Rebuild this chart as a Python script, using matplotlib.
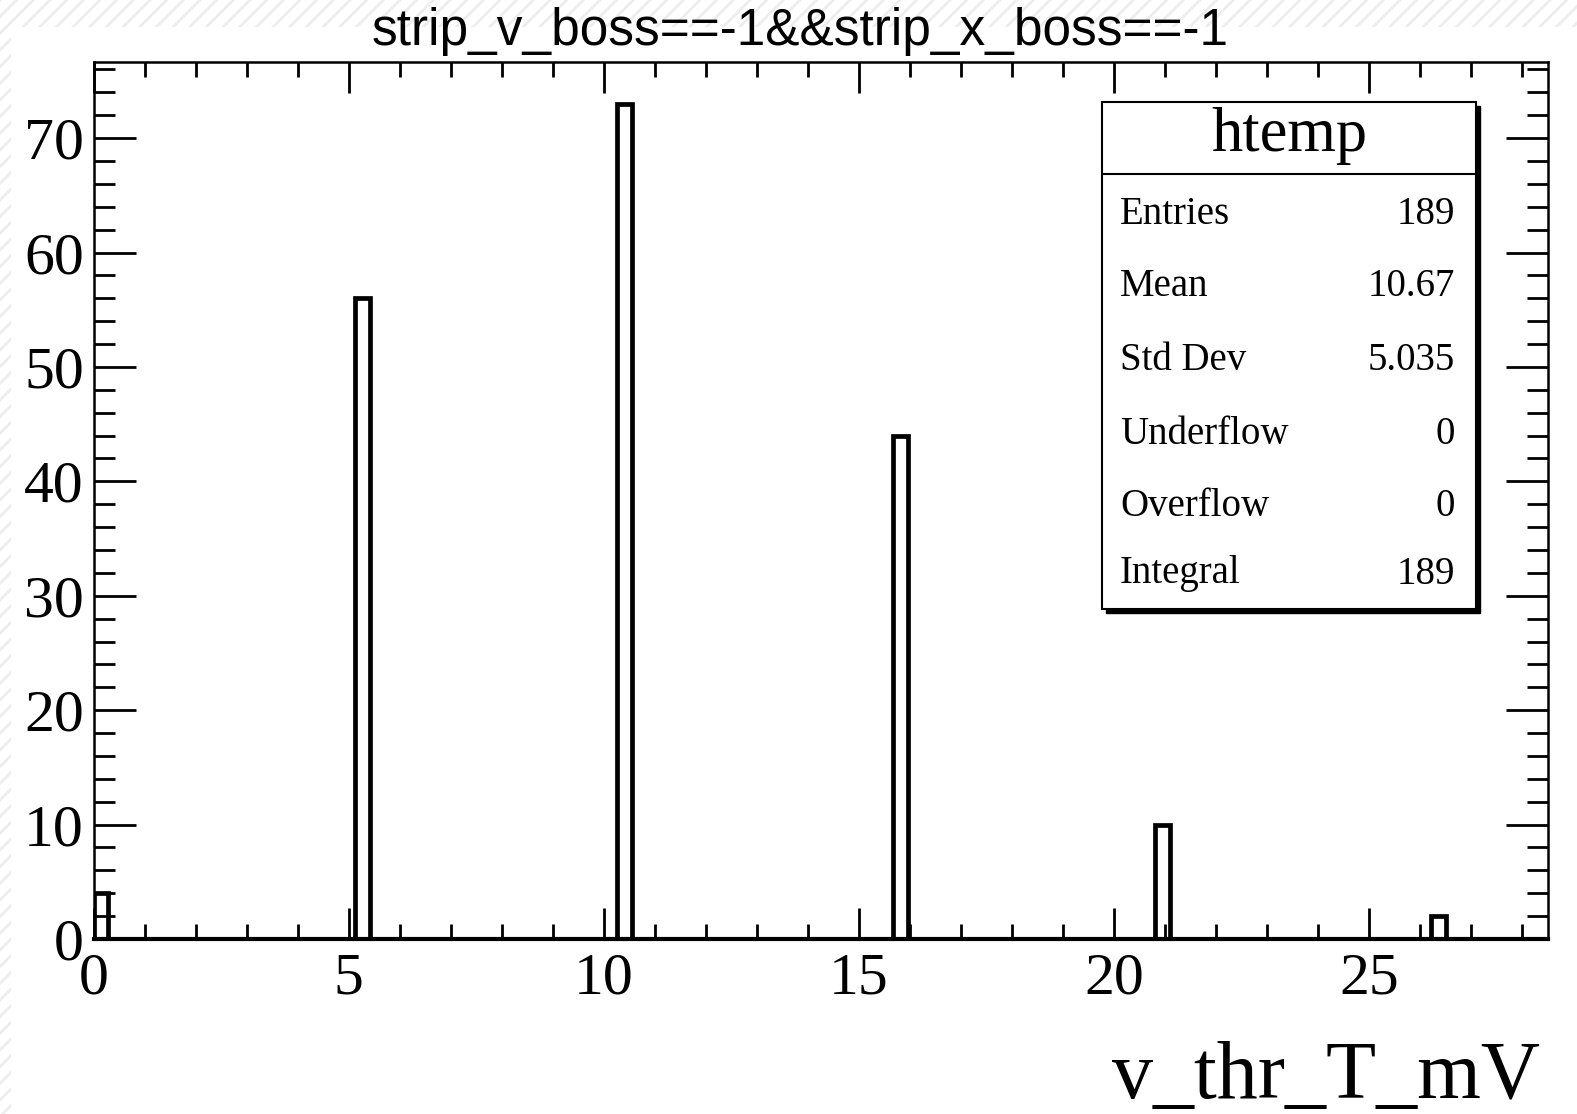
import numpy as np
import matplotlib
matplotlib.use("Agg")
import matplotlib.pyplot as plt
from matplotlib.patches import Rectangle
from matplotlib.ticker import MultipleLocator

# histogram data: threshold values (mV) and their counts
thr_values = [0.0, 5.25, 10.5, 15.75, 21.0, 26.25]
thr_counts = [4, 56, 73, 44, 10, 2]
n_bins = 100
x_range = (0.0, 28.5)

stat_names = ["Entries", "Mean", "Std Dev", "Underflow", "Overflow", "Integral"]
stat_values = ["189", "10.67", "5.035", "0", "0", "189"]

title_text = "strip_v_boss==-1&&strip_x_boss==-1"
x_label = "v_thr_T_mV"

W, H = 1577, 1114
serif = "Liberation Serif"


def fx(px):
    return px / W


def fy(py):
    return 1 - py / H


fig = plt.figure(figsize=(W / 100, H / 100), dpi=100)
fig.patch.set_facecolor("white")

# hatched strip along the top and left edges
plt.rcParams["hatch.linewidth"] = 2.0
plt.rcParams["hatch.color"] = "#ededed"
fig.add_artist(Rectangle((0, 0), 1, 1, transform=fig.transFigure,
                         facecolor="white", edgecolor="#ededed",
                         hatch="//", linewidth=0, zorder=-10))
fig.add_artist(Rectangle((fx(11), 0), 1, fy(27), transform=fig.transFigure,
                         facecolor="white", edgecolor="none", zorder=-9))

ax = fig.add_axes([fx(93.5), fy(939), fx(1547.7) - fx(93.5), fy(62) - fy(939)])
ax.hist(thr_values, bins=n_bins, range=x_range, weights=thr_counts,
        histtype="step", color="black", linewidth=3.4)

ax.set_xlim(*x_range)
ax.set_ylim(0, max(thr_counts) * 1.05)

ax.xaxis.set_major_locator(MultipleLocator(5))
ax.xaxis.set_minor_locator(MultipleLocator(1))
ax.yaxis.set_major_locator(MultipleLocator(10))
ax.yaxis.set_minor_locator(MultipleLocator(2))

ax.tick_params(axis="both", which="both", direction="in", top=True,
               right=True, width=2.0, color="black")
ax.tick_params(axis="x", which="major", length=22, pad=10)
ax.tick_params(axis="x", which="minor", length=11)
ax.tick_params(axis="y", which="major", length=30, pad=7)
ax.tick_params(axis="y", which="minor", length=15)
for lab in ax.get_xticklabels() + ax.get_yticklabels():
    lab.set_fontfamily(serif)
    lab.set_fontsize(43)

for sp in ax.spines.values():
    sp.set_linewidth(1.8)
ax.spines["bottom"].set_linewidth(3.0)

fig.text(fx(1540), fy(1098), x_label, family=serif, fontsize=59,
         ha="right", va="baseline")
fig.text(fx(800), fy(45), title_text, family="Liberation Sans", fontsize=37,
         ha="center", va="baseline")

# stats box
bl, br, bt, bb = 1102, 1476, 102, 609
fig.add_artist(Rectangle((fx(bl + 4), fy(bb + 4)), fx(br) - fx(bl),
                         fy(bt) - fy(bb), transform=fig.transFigure,
                         facecolor="black", edgecolor="black", zorder=5))
fig.add_artist(Rectangle((fx(bl), fy(bb)), fx(br) - fx(bl),
                         fy(bt) - fy(bb), transform=fig.transFigure,
                         facecolor="white", edgecolor="black", linewidth=1.5,
                         zorder=6))
fig.add_artist(plt.Line2D([fx(bl), fx(br)], [fy(174), fy(174)],
                          transform=fig.transFigure, color="black",
                          linewidth=1.5, zorder=7))
fig.text(fx(1289), fy(136), "htemp", family=serif, fontsize=45,
         ha="center", va="center", zorder=8)
row_y = [215, 286, 361, 434, 506, 574]
for name, val, yy in zip(stat_names, stat_values, row_y):
    fig.text(fx(1120), fy(yy), name, family=serif, fontsize=28,
             ha="left", va="center", zorder=8)
    fig.text(fx(1455), fy(yy), val, family=serif, fontsize=28,
             ha="right", va="center", zorder=8)

fig.savefig("out.png", dpi=100)
